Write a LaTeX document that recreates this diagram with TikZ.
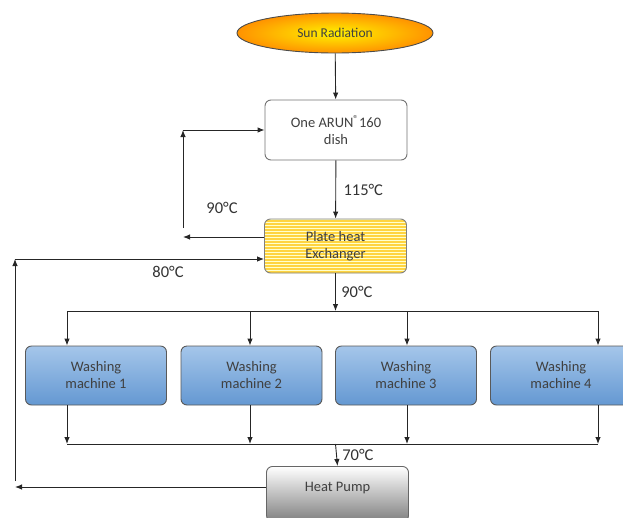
\documentclass[tikz,border=0pt]{standalone}
\usepackage{fontspec}
\setmainfont{Carlito}
\usetikzlibrary{positioning,arrows.meta,shapes.geometric,patterns}

\begin{document}
\begin{tikzpicture}[x=1pt,y=-1pt,>={Latex[length=7pt,width=5.5pt]},line width=0.9pt,draw=black!85,
  sunnode/.style={ellipse,draw=black!70,inner color=yellow!90!orange,outer color=orange!85!yellow,
    minimum width=196pt,minimum height=40pt,text=black!75,font=\fontsize{13.5}{15}\selectfont},
  box/.style={rounded corners=6pt,align=center,minimum width=142pt,text=black!75,
    font=\fontsize{14.5}{17}\selectfont},
  dishbox/.style={box,draw=black!55,fill=white,minimum height=60pt},
  phebox/.style={box,draw=black!50,preaction={fill=orange!45!yellow!75},
    pattern=horizontal lines,pattern color=yellow!20,minimum height=54pt},
  washbox/.style={box,draw=black!65,top color={rgb,255:red,165;green,198;blue,234},
    bottom color={rgb,255:red,100;green,152;blue,210},minimum width=141pt,minimum height=59pt},
  pumpbox/.style={box,draw=black!60,top color=white,bottom color=black!50,anchor=north,
    inner sep=0pt,text height=25pt,text depth=30pt},
  temp/.style={text=black!80,font=\fontsize{16.5}{18}\selectfont}]
  \clip (0,0) rectangle (623,517);
  % Quelle und Kollektor
  \node[sunnode] (sun) at (335,33) {Sun Radiation};
  \node[dishbox] (dish) at (336,130) {One ARUN\textsuperscript{®}160\\dish};
  \node[phebox] (phe) at (335.5,246) {Plate heat\\Exchanger};
  \draw[->] (sun) -- (dish);
  \draw[->] (dish) -- (phe) node[midway,right=4pt,temp] (t115) {115°C};
  % Rücklauf zum Kollektor
  \coordinate (ret) at (183,237);
  \coordinate (retup) at (183,228);
  \coordinate (retc) at (183,130);
  \draw[->] ([yshift=9pt]phe.west) -- (ret);
  \draw[->] (retup) -- (retc);
  \draw[->] (retc) -- (dish.west);
  \node[temp] (t90a) at (222,208) {90°C};
  % Verteilung auf die Waschmaschinen
  \coordinate (d1) at (67,311);
  \coordinate (d2) at (250,311);
  \coordinate (d3) at (407,311);
  \coordinate (d4) at (598,311);
  \draw[->] (phe) -- (phe.south |- d1) node[midway,right=2pt,temp] (t90b) {90°C};
  \draw (d1) -- (d4);
  \foreach \i/\x in {1/96,2/251.5,3/406,4/561}
    \node[washbox] (w\i) at (\x,375.5) {Washing\\machine \i};
  \foreach \i in {1,2,3,4}
    \draw[->] (d\i) -- (d\i |- w1.north);
  % Sammelleitung und Wärmepumpe
  \coordinate (c1) at (67,444);
  \coordinate (c4) at (598,444);
  \foreach \i in {1,2,3,4}
    \draw[->] (d\i |- w1.south) -- (d\i |- c1);
  \draw (c1) -- (c4);
  \node[pumpbox] (pump) at (337.5,466) {Heat Pump};
  \draw[->] (phe.south |- c1) -- (pump.north) node[midway,right=2pt,temp] (t70) {70°C};
  % Rücklauf zum Wärmetauscher
  \coordinate (lowleft) at (15,487);
  \coordinate (loopa) at (15,481);
  \coordinate (loopb) at (15,259);
  \draw[->] (pump.west |- lowleft) -- (lowleft);
  \draw[->] (loopa) -- (loopb);
  \draw[->] (loopb) -- (phe.west |- loopb);
  \node[temp] (t80) at (168,272) {80°C};
\end{tikzpicture}
\end{document}
